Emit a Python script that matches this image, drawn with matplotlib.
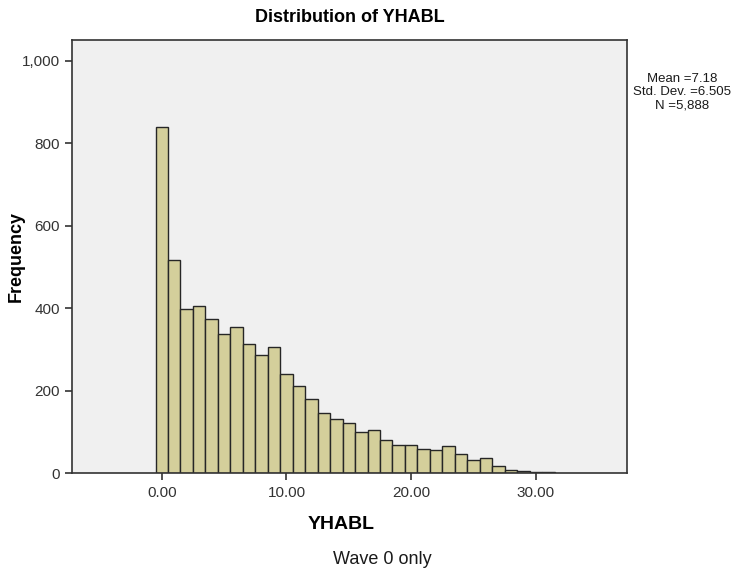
import numpy as np
import matplotlib
matplotlib.use('Agg')
import matplotlib.pyplot as plt
from matplotlib.ticker import FuncFormatter

plt.rcParams['font.family'] = ['Liberation Sans', 'DejaVu Sans']

# histogram bins (width 1, centred on integers) and counts
bin_centers = list(range(32))
counts = [840, 516, 398, 405, 374, 337, 355, 314, 287, 307,
          240, 210, 180, 146, 130, 122, 100, 105, 80, 69,
          69, 58, 57, 66, 45, 31, 36, 18, 8, 4,
          3, 2]
x_ticks = [0, 10, 20, 30]
y_ticks = [0, 200, 400, 600, 800, 1000]
stats_text = 'Mean =7.18\nStd. Dev. =6.505\nN =5,888'

fig = plt.figure(figsize=(7.53, 5.76), dpi=100)
ax = fig.add_axes([0.0956, 0.1788, 0.737, 0.7526])
ax.set_facecolor('#F0F0F0')

ax.bar(bin_centers, counts, width=1.0, color='#D4CF9B', edgecolor='#262626', linewidth=1.0)

ax.set_xlim(-7.2, 37.3)
ax.set_ylim(0, 1052)
ax.set_xticks(x_ticks)
ax.set_yticks(y_ticks)
ax.xaxis.set_major_formatter(FuncFormatter(lambda v, p: '%.2f' % v))
ax.yaxis.set_major_formatter(FuncFormatter(lambda v, p: '{:,}'.format(int(v))))
ax.tick_params(direction='out', length=5, width=1.2, colors='#333333', labelsize=11)
ax.tick_params(axis='x', pad=4)
for s in ax.spines.values():
    s.set_color('#333333')
    s.set_linewidth(1.2)

ax.set_title('Distribution of YHABL', fontsize=13, fontweight='bold', pad=12.5)
ax.set_ylabel('Frequency', fontsize=13, fontweight='bold')
ax.yaxis.set_label_coords(-0.086, 0.5)
ax.set_xlabel('YHABL', fontsize=14, fontweight='bold')
ax.xaxis.set_label_coords(0.485, -0.100)

fig.text(682 / 753, 1 - 92 / 576, stats_text, ha='center', va='center',
         fontsize=9.5, linespacing=1.15, color='#1a1a1a')
fig.text(382 / 753, 1 - 559 / 576, 'Wave 0 only', ha='center', va='center',
         fontsize=13, color='#1a1a1a')

fig.savefig('out.png', dpi=100)
